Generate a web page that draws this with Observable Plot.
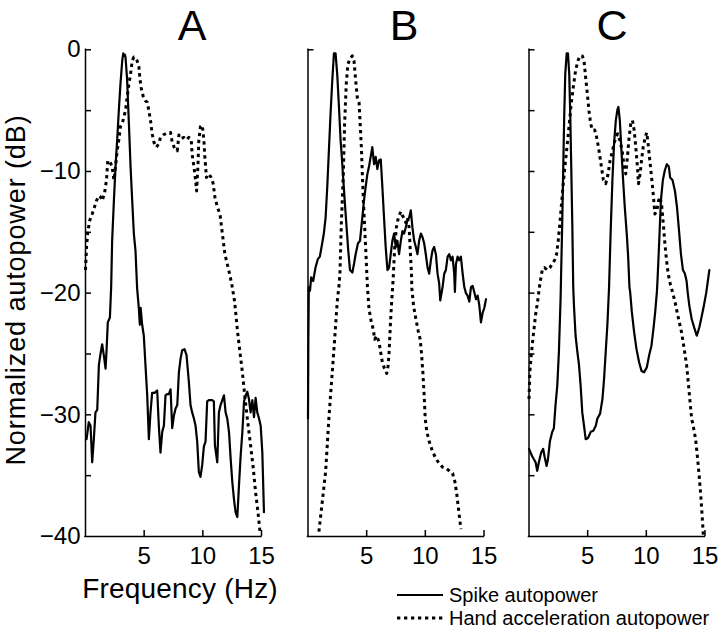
<!DOCTYPE html>
<html><head><meta charset="utf-8">
<script src="https://cdn.jsdelivr.net/npm/d3@7"></script>
<script src="https://cdn.jsdelivr.net/npm/@observablehq/plot@0.6"></script>
<style>
html,body{margin:0;padding:0;background:#fff;}
#chart{position:relative;width:720px;height:634px;overflow:hidden;background:#fff;font-family:"Liberation Sans",Arial,Helvetica,sans-serif;}
.panel{position:absolute;top:0;}
#overlay{position:absolute;left:0;top:0;pointer-events:none;}
</style></head><body><div id="chart"></div>
<script>
// ---- data (frequency Hz, normalized autopower dB) ----
const panelNames = ["A", "B", "C"];
const xDomain = [0, 15];
const yDomain = [-40, 0];
const xTicks = [5, 10, 15];
const yLabelTicks = [0, -10, -20, -30, -40];
const yTicksFull = [0, -5, -10, -15, -20, -25, -30, -35];
const yTicksB = [0];
const seriesNames = ["Spike autopower", "Hand acceleration autopower"];

const spikeA = [[0.09,-32.0],[0.28,-30.6],[0.43,-30.9],[0.57,-33.9],[0.71,-32.0],[0.85,-29.8],[1.0,-29.6],[1.14,-25.9],[1.28,-25.0],[1.42,-24.2],[1.56,-25.1],[1.71,-26.2],[1.79,-24.8],[1.9,-22.4],[2.08,-22.0],[2.19,-19.4],[2.27,-15.7],[2.42,-12.4],[2.56,-9.6],[2.7,-7.4],[2.84,-5.0],[2.98,-2.8],[3.13,-0.9],[3.22,-0.3],[3.27,-0.5],[3.35,-0.4],[3.41,-0.6],[3.55,-2.5],[3.7,-6.1],[3.84,-9.6],[3.98,-12.4],[4.12,-15.1],[4.26,-16.5],[4.4,-19.6],[4.55,-21.3],[4.63,-22.6],[4.7,-21.2],[4.83,-22.6],[4.97,-23.5],[5.11,-25.9],[5.26,-28.4],[5.4,-32.0],[5.54,-29.8],[5.68,-28.2],[5.88,-28.2],[6.11,-28.0],[6.25,-30.9],[6.39,-33.1],[6.54,-31.4],[6.68,-30.9],[6.82,-28.4],[6.96,-28.3],[7.1,-28.3],[7.25,-27.9],[7.39,-31.1],[7.53,-30.1],[7.67,-29.5],[7.82,-29.2],[7.96,-26.5],[8.1,-25.4],[8.24,-24.7],[8.44,-24.6],[8.61,-25.1],[8.81,-27.3],[8.95,-29.2],[9.09,-29.8],[9.24,-30.3],[9.38,-30.9],[9.52,-32.2],[9.66,-34.7],[9.8,-35.1],[9.95,-34.1],[10.09,-32.6],[10.23,-32.2],[10.37,-28.9],[10.51,-28.8],[10.8,-28.8],[10.94,-28.9],[11.03,-32.5],[11.23,-33.9],[11.37,-29.8],[11.51,-29.2],[11.66,-28.8],[11.8,-28.4],[11.94,-29.8],[12.08,-30.3],[12.23,-31.4],[12.37,-33.6],[12.51,-35.5],[12.65,-36.9],[12.79,-38.0],[12.94,-38.4],[13.08,-35.8],[13.22,-33.4],[13.37,-31.4],[13.51,-28.9],[13.65,-28.4],[13.79,-28.1],[13.93,-28.7],[14.07,-29.8],[14.22,-28.8],[14.36,-30.2],[14.5,-28.6],[14.64,-29.8],[14.79,-30.3],[14.93,-30.9],[15.07,-33.1],[15.21,-38.0]];

const handA = [[0.0,-18.1],[0.09,-16.2],[0.2,-14.9],[0.37,-14.0],[0.57,-13.5],[0.77,-12.9],[0.94,-12.4],[1.14,-12.0],[1.28,-12.1],[1.42,-12.4],[1.62,-11.8],[1.79,-10.7],[1.9,-9.1],[2.08,-9.2],[2.27,-9.6],[2.42,-10.7],[2.56,-9.6],[2.7,-8.3],[2.84,-7.4],[2.98,-6.3],[3.13,-6.1],[3.27,-5.5],[3.41,-5.0],[3.55,-3.9],[3.7,-2.8],[3.84,-2.0],[3.98,-0.9],[4.12,-0.6],[4.26,-0.7],[4.4,-0.9],[4.55,-1.4],[4.63,-2.3],[4.74,-3.1],[4.91,-3.8],[5.11,-4.2],[5.26,-4.3],[5.4,-5.0],[5.54,-5.8],[5.68,-6.9],[5.83,-7.6],[6.05,-8.0],[6.25,-7.7],[6.39,-7.2],[6.62,-7.0],[6.82,-6.9],[7.02,-6.8],[7.25,-6.8],[7.39,-7.6],[7.59,-8.1],[7.82,-8.3],[7.96,-7.0],[8.16,-7.3],[8.38,-7.2],[8.61,-7.4],[8.81,-7.2],[9.01,-7.4],[9.09,-8.6],[9.24,-9.6],[9.38,-10.7],[9.47,-11.6],[9.58,-9.6],[9.66,-7.4],[9.8,-6.3],[9.95,-6.2],[10.09,-7.4],[10.17,-8.8],[10.31,-10.5],[10.51,-10.2],[10.71,-10.5],[10.88,-11.0],[11.03,-12.1],[11.23,-12.9],[11.46,-13.5],[11.6,-14.6],[11.74,-15.7],[11.88,-16.8],[12.08,-17.6],[12.28,-18.4],[12.51,-19.5],[12.71,-20.7],[12.94,-23.0],[13.17,-24.9],[13.37,-26.5],[13.57,-28.4],[13.79,-30.3],[14.07,-32.5],[14.3,-34.4],[14.5,-36.4],[14.7,-38.0],[14.87,-39.6]];

const spikeB = [[0.0,-30.3],[0.03,-24.0],[0.07,-19.5],[0.17,-19.8],[0.27,-18.7],[0.44,-19.0],[0.64,-17.9],[0.84,-17.2],[1.01,-17.0],[1.21,-15.9],[1.35,-15.1],[1.5,-13.8],[1.64,-11.3],[1.78,-8.3],[1.92,-5.3],[2.07,-2.5],[2.21,-0.3],[2.35,-0.3],[2.49,-2.0],[2.64,-4.7],[2.78,-7.5],[2.86,-8.5],[3.01,-10.7],[3.15,-12.7],[3.29,-14.6],[3.43,-16.5],[3.58,-18.1],[3.78,-18.3],[3.92,-17.6],[4.06,-16.8],[4.26,-15.9],[4.43,-15.7],[4.63,-13.8],[4.77,-12.4],[4.91,-11.3],[5.06,-10.2],[5.2,-9.6],[5.34,-8.8],[5.48,-8.0],[5.63,-9.4],[5.77,-8.8],[5.91,-9.8],[6.05,-9.1],[6.2,-9.0],[6.34,-11.3],[6.48,-13.8],[6.62,-16.2],[6.77,-18.1],[6.91,-17.9],[7.05,-16.8],[7.19,-15.7],[7.34,-15.1],[7.48,-16.2],[7.62,-15.7],[7.76,-16.8],[7.91,-15.7],[8.05,-14.9],[8.19,-15.1],[8.33,-14.6],[8.48,-14.0],[8.62,-13.8],[8.76,-13.2],[8.9,-14.6],[9.05,-15.7],[9.19,-16.2],[9.33,-16.8],[9.47,-15.7],[9.62,-15.1],[9.76,-15.4],[9.9,-15.9],[10.04,-16.8],[10.19,-17.9],[10.33,-18.4],[10.47,-17.3],[10.61,-16.5],[10.75,-16.2],[10.9,-16.8],[11.04,-18.4],[11.18,-19.2],[11.27,-20.6],[11.47,-19.5],[11.61,-18.4],[11.75,-18.1],[11.9,-17.0],[12.04,-16.8],[12.18,-17.3],[12.32,-17.0],[12.46,-18.4],[12.52,-19.9],[12.61,-17.6],[12.75,-17.0],[12.89,-17.3],[13.03,-17.0],[13.18,-18.4],[13.32,-19.5],[13.46,-20.0],[13.6,-20.2],[13.75,-20.7],[13.89,-19.5],[14.03,-19.4],[14.17,-19.9],[14.32,-20.5],[14.46,-20.2],[14.6,-21.0],[14.74,-22.4],[14.89,-21.6],[15.03,-21.2],[15.17,-20.5]];

const handB = [[0.93,-39.6],[1.21,-37.2],[1.5,-34.7],[1.64,-32.5],[1.78,-30.3],[1.92,-28.4],[2.07,-26.5],[2.21,-24.6],[2.35,-22.7],[2.49,-20.7],[2.64,-19.4],[2.72,-18.4],[2.84,-14.3],[3.01,-10.2],[3.12,-6.1],[3.26,-2.8],[3.4,-1.2],[3.58,-0.7],[3.78,-0.5],[3.92,-0.9],[4.06,-2.5],[4.2,-3.9],[4.35,-4.3],[4.43,-5.8],[4.55,-8.0],[4.63,-10.2],[4.72,-12.4],[4.83,-14.6],[4.94,-16.8],[5.06,-19.4],[5.2,-21.3],[5.4,-22.4],[5.57,-23.0],[5.68,-23.8],[5.85,-23.5],[6.05,-24.0],[6.2,-24.9],[6.34,-25.7],[6.48,-26.1],[6.71,-26.6],[6.82,-26.0],[6.91,-24.9],[7.0,-23.0],[7.11,-21.0],[7.22,-19.4],[7.28,-18.4],[7.39,-16.2],[7.53,-14.6],[7.7,-13.8],[7.91,-13.3],[8.14,-13.8],[8.33,-14.2],[8.48,-13.8],[8.62,-14.6],[8.7,-16.2],[8.82,-18.4],[8.85,-19.6],[8.99,-21.0],[9.19,-22.1],[9.39,-23.1],[9.56,-23.8],[9.67,-24.9],[9.79,-26.5],[9.9,-28.4],[9.99,-30.3],[10.13,-31.4],[10.33,-32.2],[10.61,-33.0],[10.9,-33.6],[11.18,-34.0],[11.47,-34.3],[11.75,-34.4],[12.04,-34.6],[12.32,-34.8],[12.52,-35.5],[12.69,-36.6],[12.86,-38.0],[13.03,-39.4]];

const spikeC = [[0.0,-32.8],[0.27,-33.4],[0.56,-33.9],[0.7,-34.6],[0.84,-33.9],[1.04,-33.1],[1.21,-32.8],[1.32,-33.4],[1.5,-34.2],[1.61,-33.7],[1.78,-32.2],[1.98,-31.4],[2.12,-31.1],[2.26,-29.2],[2.41,-27.6],[2.55,-24.8],[2.69,-20.5],[2.83,-14.3],[2.92,-9.6],[3.0,-5.5],[3.09,-2.0],[3.21,-0.3],[3.32,-0.3],[3.43,-2.0],[3.52,-5.5],[3.6,-9.6],[3.69,-14.3],[3.77,-19.5],[3.83,-21.0],[3.97,-23.5],[4.12,-24.8],[4.26,-25.9],[4.4,-27.6],[4.54,-29.8],[4.69,-30.9],[4.83,-32.0],[5.03,-31.9],[5.26,-31.4],[5.49,-31.3],[5.69,-30.9],[5.83,-30.3],[6.06,-29.9],[6.26,-28.7],[6.4,-27.0],[6.54,-24.8],[6.68,-22.6],[6.82,-19.6],[6.97,-14.6],[7.11,-10.7],[7.25,-7.7],[7.4,-5.8],[7.54,-4.9],[7.62,-4.7],[7.74,-5.8],[7.88,-8.3],[8.02,-10.7],[8.16,-12.9],[8.33,-15.1],[8.45,-17.0],[8.56,-19.5],[8.62,-19.9],[8.76,-21.5],[8.96,-23.2],[9.16,-24.6],[9.39,-25.7],[9.59,-26.4],[9.81,-26.5],[10.04,-26.1],[10.24,-25.1],[10.44,-24.3],[10.61,-22.9],[10.75,-21.6],[10.9,-19.9],[10.95,-19.0],[11.1,-15.7],[11.24,-12.4],[11.41,-10.7],[11.58,-9.9],[11.75,-9.4],[11.92,-9.6],[12.03,-10.5],[12.23,-10.7],[12.44,-11.6],[12.61,-12.9],[12.78,-14.8],[12.95,-16.8],[13.12,-18.1],[13.29,-18.4],[13.43,-19.0],[13.52,-19.9],[13.66,-21.0],[13.86,-22.1],[14.1,-22.9],[14.3,-23.5],[14.52,-22.8],[14.72,-21.9],[14.89,-21.1],[15.1,-20.0],[15.37,-18.1]];

const handC = [[0.0,-28.7],[0.07,-26.5],[0.19,-25.1],[0.36,-23.5],[0.56,-21.8],[0.76,-20.5],[0.93,-19.2],[1.13,-18.1],[1.32,-17.9],[1.55,-18.1],[1.78,-17.9],[1.98,-17.6],[2.18,-17.3],[2.35,-16.8],[2.49,-15.7],[2.63,-14.3],[2.75,-12.9],[2.89,-11.3],[3.03,-9.9],[3.18,-8.5],[3.32,-7.2],[3.46,-5.8],[3.6,-4.4],[3.77,-3.1],[3.97,-1.7],[4.17,-0.9],[4.34,-0.5],[4.54,-0.5],[4.69,-0.9],[4.83,-2.3],[4.97,-3.6],[5.11,-5.0],[5.26,-6.1],[5.4,-6.6],[5.6,-6.6],[5.77,-7.2],[5.97,-8.3],[6.17,-9.6],[6.34,-10.7],[6.54,-11.0],[6.74,-10.2],[6.91,-9.1],[7.11,-8.3],[7.31,-7.5],[7.54,-6.9],[7.77,-7.5],[7.97,-8.5],[8.11,-9.6],[8.25,-10.2],[8.39,-8.8],[8.53,-7.2],[8.67,-6.1],[8.82,-5.8],[8.96,-6.6],[9.1,-8.0],[9.24,-9.6],[9.33,-11.0],[9.47,-10.2],[9.59,-9.1],[9.73,-8.0],[9.9,-7.2],[10.04,-6.8],[10.18,-8.0],[10.33,-9.4],[10.47,-10.7],[10.61,-12.1],[10.73,-13.5],[10.9,-13.2],[11.04,-12.4],[11.18,-12.1],[11.32,-12.9],[11.47,-14.6],[11.58,-15.9],[11.72,-17.3],[11.86,-18.4],[12.03,-19.2],[12.23,-19.9],[12.44,-20.7],[12.61,-21.5],[12.81,-22.4],[13.0,-23.2],[13.23,-24.6],[13.43,-25.9],[13.6,-27.6],[13.75,-29.2],[13.86,-30.3],[14.03,-31.1],[14.2,-32.0],[14.37,-33.6],[14.52,-35.2],[14.66,-36.9],[14.77,-38.5],[14.86,-39.9]];

// ---- layout ----
const FONT = '"Liberation Sans", Arial, Helvetica, sans-serif';
const H = 634, MT = 49.3, MB = 98, TICK = 6;
const FRAME_W = 176, FRAME_H = H - MT - MB;
// tick length converted from pixels into each scale's units
const tickLenX = TICK * (xDomain[1] - xDomain[0]) / FRAME_W;
const tickLenY = TICK * (yDomain[1] - yDomain[0]) / FRAME_H;
const panels = [
  {name: panelNames[0], spike: spikeA, hand: handA, left: 0,   width: 275, mL: 85,   mR: 14,   yTicks: yTicksFull, labels: true,  titleX: 192},
  {name: panelNames[1], spike: spikeB, hand: handB, left: 290, width: 200, mL: 17.5, mR: 6.5,  yTicks: yTicksB,    labels: false, titleX: 404},
  {name: panelNames[2], spike: spikeC, hand: handC, left: 510, width: 210, mL: 18.5, mR: 15.5, yTicks: yTicksFull, labels: false, titleX: 612}
];
const toRows = arr => arr.map(([f, db]) => ({f, db}));
const fmt = d3.format("d");
const dotted = {stroke: "black", strokeWidth: 3, strokeDasharray: "3.3,3.7", strokeLinecap: "butt"};
const solid = {stroke: "black", strokeWidth: 2.2, strokeLinejoin: "round"};
const tickStyle = {stroke: "black", strokeWidth: 1.5};

const chart = document.getElementById("chart");
for (const p of panels) {
  const svg = Plot.plot({
    width: p.width, height: H,
    marginLeft: p.mL, marginRight: p.mR, marginTop: MT, marginBottom: MB,
    style: {fontFamily: FONT, background: "transparent", overflow: "visible", color: "black"},
    x: {domain: xDomain, axis: null},
    y: {domain: yDomain, axis: null},
    marks: [
      Plot.ruleX([xDomain[0]], {stroke: "black", strokeWidth: 1.5, strokeLinecap: "square"}),
      Plot.ruleY([yDomain[0]], {stroke: "black", strokeWidth: 1.5, strokeLinecap: "square"}),
      // inward-pointing tick marks (MATLAB style)
      Plot.ruleY(p.yTicks, {y: d => d, x1: xDomain[0], x2: xDomain[0] + tickLenX, ...tickStyle}),
      Plot.ruleX(xTicks, {x: d => d, y1: yDomain[0], y2: yDomain[0] + tickLenY, ...tickStyle}),
      Plot.line(toRows(p.hand), {x: "f", y: "db", ...dotted}),
      Plot.line(toRows(p.spike), {x: "f", y: "db", ...solid}),
      p.labels ? Plot.axisY(yLabelTicks, {anchor: "left", tickSize: 0, tickPadding: 5, fontSize: 24, tickFormat: fmt, label: null, fill: "black"}) : null,
      Plot.axisX(xTicks, {anchor: "bottom", tickSize: 0, tickPadding: 10, fontSize: 24, tickFormat: fmt, label: null, fill: "black"})
    ]
  });
  const wrap = document.createElement("div");
  wrap.className = "panel";
  wrap.style.left = p.left + "px";
  wrap.appendChild(svg);
  chart.appendChild(wrap);
}

// ---- text overlay: titles, axis labels, legend ----
const ov = d3.select(chart).append("svg").attr("id", "overlay")
  .attr("width", 720).attr("height", H).style("font-family", FONT);
for (const p of panels) {
  ov.append("text").attr("x", p.titleX).attr("y", 40).attr("text-anchor", "middle")
    .attr("font-size", 43).text(p.name);
}
ov.append("text").attr("transform", "translate(25,290) rotate(-90)").attr("text-anchor", "middle")
  .attr("font-size", 27).attr("letter-spacing", 0.9).text("Normalized autopower (dB)");
ov.append("text").attr("x", 180).attr("y", 598).attr("text-anchor", "middle")
  .attr("font-size", 28).attr("letter-spacing", 0.2).text("Frequency (Hz)");
const legY = [595, 618];
ov.append("line").attr("x1", 397).attr("x2", 443).attr("y1", legY[0]).attr("y2", legY[0])
  .attr("stroke", "black").attr("stroke-width", 2.2);
ov.append("line").attr("x1", 397).attr("x2", 443).attr("y1", legY[1]).attr("y2", legY[1])
  .attr("stroke", "black").attr("stroke-width", 3).attr("stroke-dasharray", "3.3,3.7");
seriesNames.forEach((s, i) => {
  ov.append("text").attr("x", 449).attr("y", legY[i] + 7).attr("font-size", 20).text(s);
});
</script></body></html>
